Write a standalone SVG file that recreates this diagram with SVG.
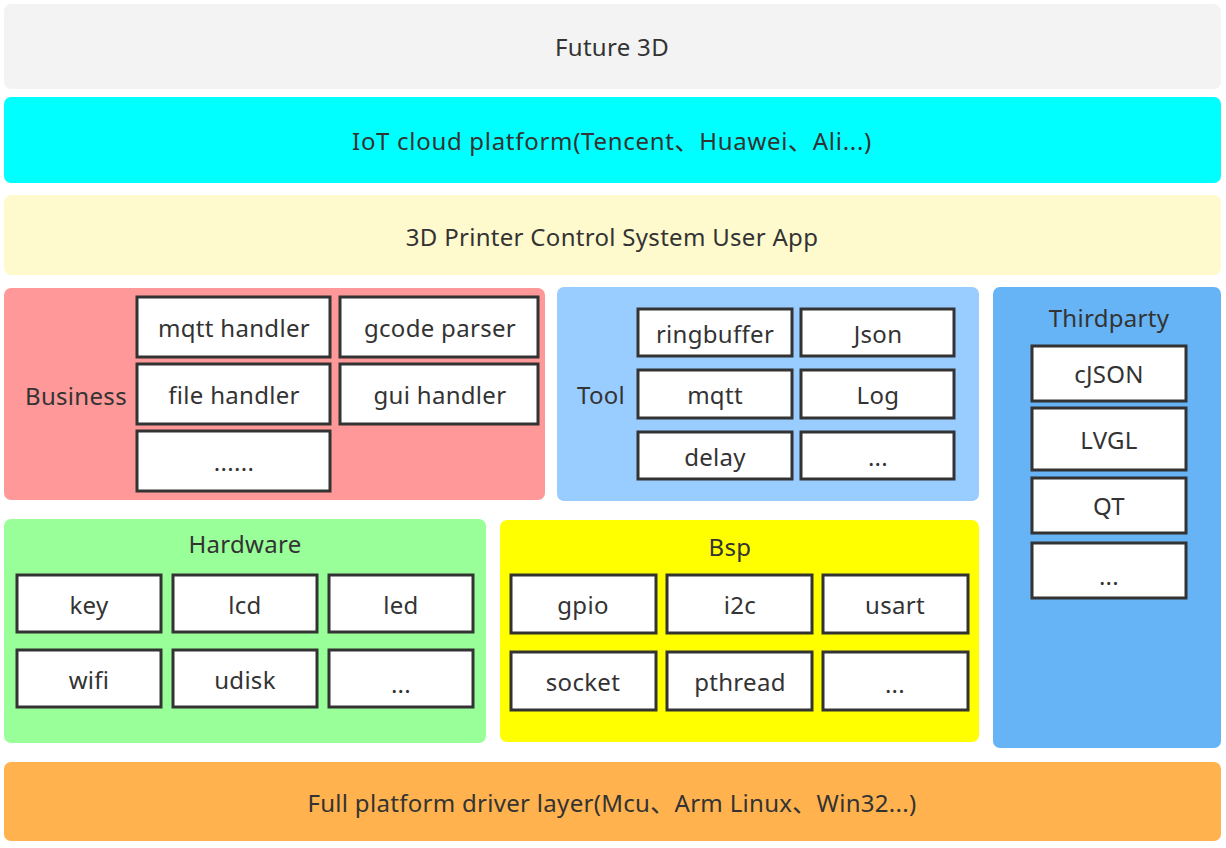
<svg xmlns="http://www.w3.org/2000/svg" width="1226" height="848" viewBox="0 0 1226 848">
<style>
text{font-family:"Noto Sans","Noto Sans CJK SC",sans-serif;font-size:24px;fill:#333;text-anchor:middle;dominant-baseline:central;letter-spacing:0.3px}
.band{stroke:none}
.box{fill:#fff;stroke:#333;stroke-width:3}
</style>
<rect width="1226" height="848" fill="#fff"/>
<g id="future"><rect class="band" x="4" y="4" width="1217" height="85" rx="7" fill="#f3f3f3"/><text x="612" y="46">Future 3D</text></g>
<g id="iot"><rect class="band" x="4" y="97" width="1217" height="86" rx="7" fill="#00ffff"/><text x="612" y="140" style="letter-spacing:0.7px">IoT cloud platform(Tencent、Huawei、Ali...)</text></g>
<g id="app"><rect class="band" x="4" y="195" width="1217" height="80" rx="7" fill="#fffacd"/><text x="612" y="236">3D Printer Control System User App</text></g>

<g id="business"><rect class="band" x="4" y="288" width="541" height="212" rx="7" fill="#ff9999"/><text x="76" y="395">Business</text>
<rect class="box" x="137" y="297" width="193" height="60"/><text x="234" y="327">mqtt handler</text>
<rect class="box" x="340" y="297" width="198" height="60"/><text x="440" y="327">gcode parser</text>
<rect class="box" x="137" y="364" width="193" height="60"/><text x="234" y="394">file handler</text>
<rect class="box" x="340" y="364" width="198" height="60"/><text x="440" y="394">gui handler</text>
<rect class="box" x="137" y="431" width="193" height="60"/><text x="234" y="461">......</text>
</g>

<g id="tool"><rect class="band" x="557" y="287" width="422" height="214" rx="7" fill="#99ccff"/><text x="601" y="394">Tool</text>
<rect class="box" x="638" y="309" width="154" height="47"/><text x="715" y="333">ringbuffer</text>
<rect class="box" x="801" y="309" width="153" height="47"/><text x="878" y="333">Json</text>
<rect class="box" x="638" y="370" width="154" height="48"/><text x="715" y="394">mqtt</text>
<rect class="box" x="801" y="370" width="153" height="48"/><text x="878" y="394">Log</text>
<rect class="box" x="638" y="432" width="154" height="47"/><text x="715" y="456">delay</text>
<rect class="box" x="801" y="432" width="153" height="47"/><text x="878" y="456">...</text>
</g>

<g id="thirdparty"><rect class="band" x="993" y="287" width="228" height="461" rx="7" fill="#66b3f5"/><text x="1109" y="317">Thirdparty</text>
<rect class="box" x="1032" y="346" width="154" height="55"/><text x="1109" y="373">cJSON</text>
<rect class="box" x="1032" y="408" width="154" height="62"/><text x="1109" y="439">LVGL</text>
<rect class="box" x="1032" y="478" width="154" height="55"/><text x="1109" y="505">QT</text>
<rect class="box" x="1032" y="543" width="154" height="55"/><text x="1109" y="575">...</text>
</g>

<g id="hardware"><rect class="band" x="4" y="519" width="482" height="224" rx="7" fill="#99ff99"/><text x="245" y="543">Hardware</text>
<rect class="box" x="17" y="575" width="144" height="57"/><text x="89" y="604">key</text>
<rect class="box" x="173" y="575" width="144" height="57"/><text x="245" y="604">lcd</text>
<rect class="box" x="329" y="575" width="144" height="57"/><text x="401" y="604">led</text>
<rect class="box" x="17" y="650" width="144" height="57"/><text x="89" y="679">wifi</text>
<rect class="box" x="173" y="650" width="144" height="57"/><text x="245" y="679">udisk</text>
<rect class="box" x="329" y="650" width="144" height="57"/><text x="401" y="683">...</text>
</g>

<g id="bsp"><rect class="band" x="500" y="520" width="479" height="222" rx="7" fill="#ffff00"/><text x="730" y="546">Bsp</text>
<rect class="box" x="511" y="575" width="145" height="58"/><text x="583" y="604">gpio</text>
<rect class="box" x="667" y="575" width="145" height="58"/><text x="740" y="604">i2c</text>
<rect class="box" x="823" y="575" width="145" height="58"/><text x="895" y="604">usart</text>
<rect class="box" x="511" y="652" width="145" height="58"/><text x="583" y="681">socket</text>
<rect class="box" x="667" y="652" width="145" height="58"/><text x="740" y="681">pthread</text>
<rect class="box" x="823" y="652" width="145" height="58"/><text x="895" y="683">...</text>
</g>

<g id="driver"><rect class="band" x="4" y="762" width="1217" height="79" rx="7" fill="#ffb24d"/><text x="612" y="802">Full platform driver layer(Mcu、Arm Linux、Win32...)</text></g>
<g id="connectors"/>
</svg>
